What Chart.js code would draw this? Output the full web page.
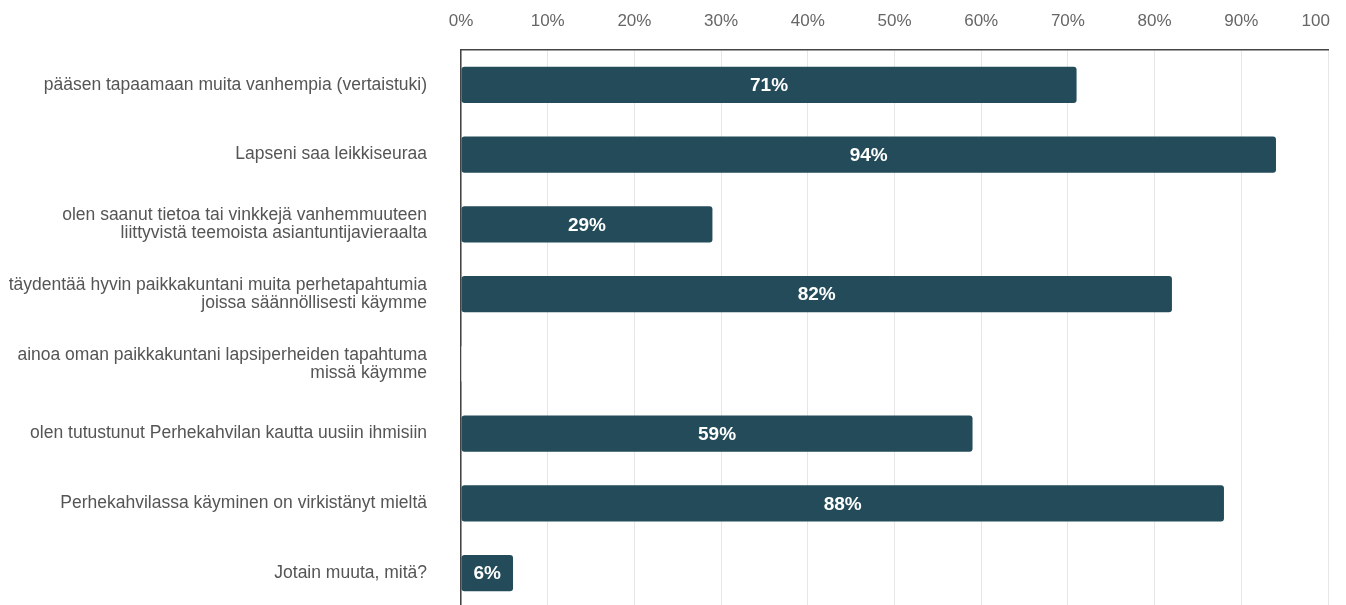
<!DOCTYPE html>
<html>
<head>
<meta charset="utf-8">
<script src="https://cdn.jsdelivr.net/npm/chart.js@4/dist/chart.umd.min.js"></script>
<style>
  html, body { margin: 0; padding: 0; background: #fff; overflow: hidden; }
  #wrap { position: absolute; left: 0; top: 0; }
</style>
</head>
<body>
<div id="wrap"><canvas id="c" width="1330" height="608"></canvas></div>
<script>
const categories = [
  "pääsen tapaamaan muita vanhempia (vertaistuki)",
  "Lapseni saa leikkiseuraa",
  ["olen saanut tietoa tai vinkkejä vanhemmuuteen", "liittyvistä teemoista asiantuntijavieraalta"],
  ["täydentää hyvin paikkakuntani muita perhetapahtumia", "joissa säännöllisesti käymme"],
  ["ainoa oman paikkakuntani lapsiperheiden tapahtuma", "missä käymme"],
  "olen tutustunut Perhekahvilan kautta uusiin ihmisiin",
  "Perhekahvilassa käyminen on virkistänyt mieltä",
  "Jotain muuta, mitä?"
];
const percentValues = [71, 94, 29, 82, 0, 59, 88, 6];
const tickValues = [0, 10, 20, 30, 40, 50, 60, 70, 80, 90, 100];

const BAR = '#234b59';
const FONT = "'Liberation Sans', Arial, sans-serif";

const valueLabels = {
  id: 'valueLabels',
  afterDatasetsDraw(chart) {
    const ctx = chart.ctx;
    const meta = chart.getDatasetMeta(0);
    ctx.save();
    ctx.fillStyle = '#ffffff';
    ctx.font = "bold 19px " + FONT;
    ctx.textAlign = 'center';
    ctx.textBaseline = 'middle';
    meta.data.forEach((el, i) => {
      const v = percentValues[i];
      if (!v) return;
      const p = el.getProps(['x', 'y', 'base'], true);
      ctx.fillText(v + '%', (p.x + p.base) / 2, p.y + 1);
    });
    ctx.restore();
  }
};

new Chart(document.getElementById('c'), {
  type: 'bar',
  data: {
    labels: categories,
    datasets: [{
      data: percentValues,
      backgroundColor: (c) => (c.raw === 0 ? '#ffffff' : BAR),
      borderWidth: 0,
      borderRadius: 3,
      borderSkipped: false,
      minBarLength: 3,
      barPercentage: 0.52,
      categoryPercentage: 1.0
    }]
  },
  options: {
    indexAxis: 'y',
    responsive: false,
    animation: false,
    layout: { padding: { left: 0, right: 2, top: 0, bottom: 0 } },
    plugins: { legend: { display: false }, tooltip: { enabled: false } },
    scales: {
      x: {
        position: 'top',
        min: 0,
        max: 100,
        afterBuildTicks: (s) => { s.ticks = tickValues.map(v => ({ value: v })); },
        afterFit: (s) => { s.height = 50; s.paddingLeft = 0; s.paddingRight = 0; },
        ticks: {
          color: '#666666',
          font: { family: FONT, size: 17 },
          padding: 18,
          maxRotation: 0,
          autoSkip: false,
          callback: (v) => (v === 100 ? v + '%  ' : v + '%')
        },
        grid: { color: '#e6e6e6', lineWidth: 1, drawTicks: false },
        border: { display: true, color: '#444444', width: 1.5 }
      },
      y: {
        afterFit: (s) => { s.width = 461; s.paddingTop = 0; s.paddingBottom = 0; },
        ticks: {
          color: '#555555',
          font: { family: FONT, size: 17.5, lineHeight: '18px' },
          padding: 34,
          autoSkip: false
        },
        grid: { display: false, drawTicks: false },
        border: { display: true, color: '#444444', width: 1.5 }
      }
    }
  },
  plugins: [valueLabels]
});
</script>
</body>
</html>
